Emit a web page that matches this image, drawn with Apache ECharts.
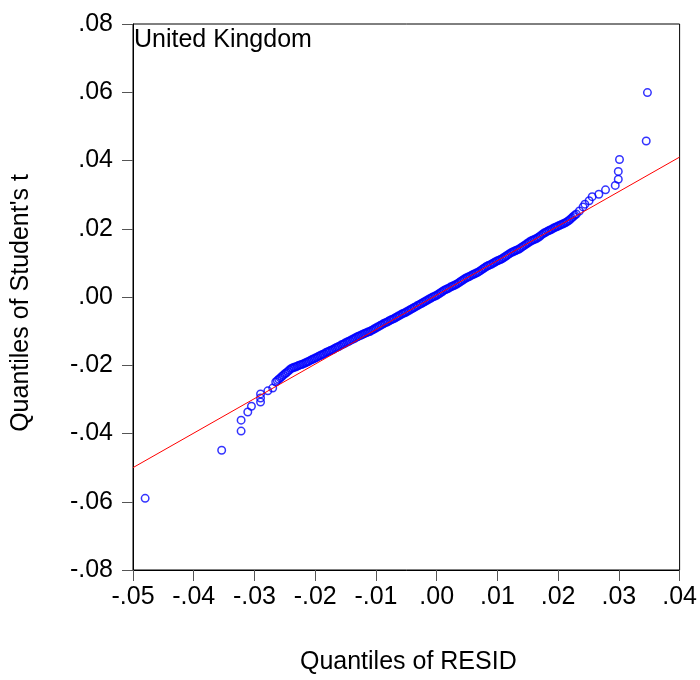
<!DOCTYPE html>
<html>
<head>
<meta charset="utf-8">
<script src="https://cdn.jsdelivr.net/npm/echarts@6/dist/echarts.min.js"></script>
<style>
html,body{margin:0;padding:0;background:#fff;}
#chart{width:700px;height:680px;}
</style>
</head>
<body>
<div id="chart"></div>
<script>
// ---- data ----
const chartLabel = "United Kingdom";
const xAxisName = "Quantiles of RESID";
const yAxisName = "Quantiles of Student's t";

const xTicks = [-0.05, -0.04, -0.03, -0.02, -0.01, 0.00, 0.01, 0.02, 0.03, 0.04];
const yTicks = [-0.08, -0.06, -0.04, -0.02, 0.00, 0.02, 0.04, 0.06, 0.08];

// Lower tail points (RESID quantile, Student's t quantile)
const lowTailX = [-0.0480, -0.0354, -0.0322, -0.0322, -0.0311, -0.0305, -0.0290, -0.0290, -0.0290, -0.0278, -0.0270];
const lowTailY = [-0.0590, -0.0449, -0.0393, -0.0361, -0.0337, -0.0320, -0.0308, -0.0296, -0.0284, -0.0275, -0.0267];

// Dense central band
const bandX = [
  -0.02650, -0.02625, -0.02600, -0.02575, -0.02550, -0.02525, -0.02500, -0.02475, -0.02450, -0.02425,
  -0.02400, -0.02375, -0.02350, -0.02325, -0.02300, -0.02275, -0.02250, -0.02225, -0.02200, -0.02175,
  -0.02150, -0.02125, -0.02100, -0.02075, -0.02050, -0.02025, -0.02000, -0.01975, -0.01950, -0.01925,
  -0.01900, -0.01875, -0.01850, -0.01825, -0.01800, -0.01775, -0.01750, -0.01725, -0.01700, -0.01675,
  -0.01650, -0.01625, -0.01600, -0.01575, -0.01550, -0.01525, -0.01500, -0.01475, -0.01450, -0.01425,
  -0.01400, -0.01375, -0.01350, -0.01325, -0.01300, -0.01275, -0.01250, -0.01225, -0.01200, -0.01175,
  -0.01150, -0.01125, -0.01100, -0.01075, -0.01050, -0.01025, -0.01000, -0.00975, -0.00950, -0.00925,
  -0.00900, -0.00875, -0.00850, -0.00825, -0.00800, -0.00775, -0.00750, -0.00725, -0.00700, -0.00675,
  -0.00650, -0.00625, -0.00600, -0.00575, -0.00550, -0.00525, -0.00500, -0.00475, -0.00450, -0.00425,
  -0.00400, -0.00375, -0.00350, -0.00325, -0.00300, -0.00275, -0.00250, -0.00225, -0.00200, -0.00175,
  -0.00150, -0.00125, -0.00100, -0.00075, -0.00050, -0.00025, 0.00000, 0.00025, 0.00050, 0.00075,
  0.00100, 0.00125, 0.00150, 0.00175, 0.00200, 0.00225, 0.00250, 0.00275, 0.00300, 0.00325,
  0.00350, 0.00375, 0.00400, 0.00425, 0.00450, 0.00475, 0.00500, 0.00525, 0.00550, 0.00575,
  0.00600, 0.00625, 0.00650, 0.00675, 0.00700, 0.00725, 0.00750, 0.00775, 0.00800, 0.00825,
  0.00850, 0.00875, 0.00900, 0.00925, 0.00950, 0.00975, 0.01000, 0.01025, 0.01050, 0.01075,
  0.01100, 0.01125, 0.01150, 0.01175, 0.01200, 0.01225, 0.01250, 0.01275, 0.01300, 0.01325,
  0.01350, 0.01375, 0.01400, 0.01425, 0.01450, 0.01475, 0.01500, 0.01525, 0.01550, 0.01575,
  0.01600, 0.01625, 0.01650, 0.01675, 0.01700, 0.01725, 0.01750, 0.01775, 0.01800, 0.01825,
  0.01850, 0.01875, 0.01900, 0.01925, 0.01950, 0.01975, 0.02000, 0.02025, 0.02050, 0.02075,
  0.02100, 0.02125, 0.02150, 0.02175, 0.02200, 0.02225, 0.02250, 0.02275, 0.02300
];
const bandY = [
  -0.0249, -0.0245, -0.0241, -0.0237, -0.0233, -0.0229, -0.0225, -0.0222, -0.0218, -0.0214,
  -0.0210, -0.0208, -0.0206, -0.0205, -0.0203, -0.0201, -0.0199, -0.0198, -0.0196, -0.0194,
  -0.0192, -0.0190, -0.0188, -0.0185, -0.0183, -0.0181, -0.0179, -0.0177, -0.0174, -0.0172,
  -0.0170, -0.0168, -0.0166, -0.0163, -0.0161, -0.0159, -0.0157, -0.0155, -0.0153, -0.0150,
  -0.0148, -0.0146, -0.0144, -0.0141, -0.0139, -0.0137, -0.0134, -0.0132, -0.0130, -0.0128,
  -0.0125, -0.0123, -0.0121, -0.0118, -0.0116, -0.0114, -0.0112, -0.0110, -0.0108, -0.0106,
  -0.0104, -0.0102, -0.0101, -0.0098, -0.0096, -0.0093, -0.0091, -0.0088, -0.0086, -0.0083,
  -0.0081, -0.0078, -0.0076, -0.0074, -0.0072, -0.0069, -0.0067, -0.0065, -0.0063, -0.0060,
  -0.0058, -0.0055, -0.0053, -0.0050, -0.0048, -0.0046, -0.0044, -0.0041, -0.0039, -0.0036,
  -0.0034, -0.0031, -0.0029, -0.0026, -0.0024, -0.0021, -0.0019, -0.0016, -0.0014, -0.0011,
  -0.0009, -0.0006, -0.0004, -0.0001, 0.0001, 0.0003, 0.0005, 0.0008, 0.0011, 0.0014,
  0.0017, 0.0020, 0.0022, 0.0024, 0.0026, 0.0029, 0.0031, 0.0033, 0.0035, 0.0037,
  0.0040, 0.0043, 0.0046, 0.0049, 0.0052, 0.0055, 0.0057, 0.0059, 0.0061, 0.0064,
  0.0066, 0.0068, 0.0070, 0.0072, 0.0075, 0.0078, 0.0081, 0.0084, 0.0087, 0.0090,
  0.0092, 0.0094, 0.0096, 0.0099, 0.0101, 0.0104, 0.0106, 0.0108, 0.0110, 0.0112,
  0.0115, 0.0118, 0.0121, 0.0124, 0.0127, 0.0130, 0.0132, 0.0134, 0.0136, 0.0138,
  0.0140, 0.0143, 0.0146, 0.0149, 0.0152, 0.0155, 0.0158, 0.0161, 0.0164, 0.0166,
  0.0168, 0.0170, 0.0172, 0.0175, 0.0178, 0.0182, 0.0185, 0.0188, 0.0190, 0.0193,
  0.0195, 0.0197, 0.0199, 0.0202, 0.0204, 0.0206, 0.0208, 0.0210, 0.0212, 0.0214,
  0.0216, 0.0218, 0.0221, 0.0224, 0.0228, 0.0232, 0.0236, 0.0240, 0.0243
];

// Upper tail points
const highTailX = [0.0235, 0.0241, 0.0244, 0.0251, 0.0256, 0.0267, 0.0278, 0.0294, 0.0299, 0.0299, 0.0301, 0.0345, 0.0347];
const highTailY = [0.0252, 0.0264, 0.0272, 0.0282, 0.0294, 0.0301, 0.0314, 0.0327, 0.0345, 0.0368, 0.0403, 0.0457, 0.0599];

// Reference (fitted) line end points
const refLineX = [-0.05, 0.04];
const refLineY = [-0.0500, 0.0410];

// ---- chart ----
const fmt = v => Number(v).toFixed(2).replace('0.', '.');
const FONT = "'Liberation Sans', Arial, sans-serif";
const FS = 25;

const pairs = (xs, ys) => xs.map((x, i) => [x, ys[i]]);
const points = [].concat(pairs(lowTailX, lowTailY), pairs(bandX, bandY), pairs(highTailX, highTailY));

const chart = echarts.init(document.getElementById('chart'), null, {renderer: 'canvas'});
chart.setOption({
  backgroundColor: '#ffffff',
  animation: false,
  title: {
    text: chartLabel,
    left: 134,
    top: 28,
    padding: 0,
    textStyle: {fontFamily: FONT, fontSize: FS, fontWeight: 'normal', color: '#000'}
  },
  grid: {
    left: 133, right: 17, top: 24, bottom: 107,
    show: true, borderColor: '#000', borderWidth: 1, backgroundColor: 'transparent'
  },
  xAxis: {
    type: 'value',
    min: xTicks[0], max: xTicks[xTicks.length - 1], interval: 0.01,
    name: xAxisName, nameLocation: 'middle', nameGap: 80,
    nameTextStyle: {fontFamily: FONT, fontSize: FS, color: '#000', padding: [0, 0, 0, 4]},
    axisLine: {show: true, onZero: false, lineStyle: {color: '#000', width: 1}},
    axisTick: {show: true, inside: false, length: 11, lineStyle: {color: '#555', width: 1}},
    axisLabel: {fontFamily: FONT, fontSize: FS, color: '#000', margin: 15, formatter: fmt},
    splitLine: {show: false}
  },
  yAxis: {
    type: 'value',
    min: yTicks[0], max: yTicks[yTicks.length - 1], interval: 0.02,
    name: yAxisName, nameLocation: 'middle', nameGap: 99, nameRotate: 90,
    nameTextStyle: {fontFamily: FONT, fontSize: FS, color: '#000', padding: [0, 12, 0, 0]},
    axisLine: {show: true, onZero: false, lineStyle: {color: '#000', width: 1}},
    axisTick: {show: true, inside: false, length: 11, lineStyle: {color: '#555', width: 1}},
    axisLabel: {fontFamily: FONT, fontSize: FS, color: '#000', margin: 20, formatter: fmt},
    splitLine: {show: false}
  },
  series: [
    {
      type: 'line',
      data: pairs(refLineX, refLineY),
      showSymbol: false,
      symbol: 'none',
      lineStyle: {color: '#ff0000', width: 1},
      z: 3,
      silent: true
    },
    {
      type: 'scatter',
      data: points,
      symbol: 'circle',
      symbolSize: 7.5,
      itemStyle: {color: 'rgba(0,0,0,0)', borderColor: '#0000ff', borderWidth: 1.5},
      z: 2,
      silent: true
    }
  ]
});
</script>
</body>
</html>
